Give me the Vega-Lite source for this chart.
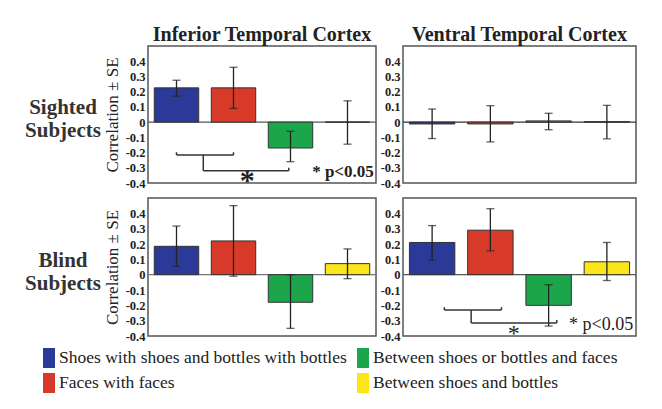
{
  "$schema": "https://vega.github.io/schema/vega-lite/v6.json",
  "padding": {"left": 5, "top": 24, "right": 5, "bottom": 5},
  "background": "white",
  "datasets": {
    "bars": [
      {"region": "IT", "group": "Sighted", "condition": "Shoes with shoes and bottles with bottles", "value": 0.225, "lo": 0.17, "hi": 0.275},
      {"region": "IT", "group": "Sighted", "condition": "Faces with faces", "value": 0.225, "lo": 0.09, "hi": 0.36},
      {"region": "IT", "group": "Sighted", "condition": "Between shoes or bottles and faces", "value": -0.17, "lo": -0.26, "hi": -0.06},
      {"region": "IT", "group": "Sighted", "condition": "Between shoes and bottles", "value": 0.0, "lo": -0.145, "hi": 0.14},
      {"region": "VT", "group": "Sighted", "condition": "Shoes with shoes and bottles with bottles", "value": -0.012, "lo": -0.108, "hi": 0.086},
      {"region": "VT", "group": "Sighted", "condition": "Faces with faces", "value": -0.012, "lo": -0.13, "hi": 0.108},
      {"region": "VT", "group": "Sighted", "condition": "Between shoes or bottles and faces", "value": 0.008, "lo": -0.05, "hi": 0.058},
      {"region": "VT", "group": "Sighted", "condition": "Between shoes and bottles", "value": 0.003, "lo": -0.11, "hi": 0.11},
      {"region": "IT", "group": "Blind", "condition": "Shoes with shoes and bottles with bottles", "value": 0.185, "lo": 0.055, "hi": 0.317},
      {"region": "IT", "group": "Blind", "condition": "Faces with faces", "value": 0.22, "lo": -0.01, "hi": 0.45},
      {"region": "IT", "group": "Blind", "condition": "Between shoes or bottles and faces", "value": -0.18, "lo": -0.35, "hi": 0.0},
      {"region": "IT", "group": "Blind", "condition": "Between shoes and bottles", "value": 0.072, "lo": -0.026, "hi": 0.168},
      {"region": "VT", "group": "Blind", "condition": "Shoes with shoes and bottles with bottles", "value": 0.21, "lo": 0.095, "hi": 0.32},
      {"region": "VT", "group": "Blind", "condition": "Faces with faces", "value": 0.29, "lo": 0.155, "hi": 0.43},
      {"region": "VT", "group": "Blind", "condition": "Between shoes or bottles and faces", "value": -0.2, "lo": -0.335, "hi": -0.066},
      {"region": "VT", "group": "Blind", "condition": "Between shoes and bottles", "value": 0.084, "lo": -0.038, "hi": 0.21}
    ],
    "brackets": [
      {"panel": "IT-Sighted", "x": 0.5, "x2": 1.5, "y": -0.216, "y2": -0.216},
      {"panel": "IT-Sighted", "x": 0.5, "x2": 0.5, "y": -0.216, "y2": -0.198},
      {"panel": "IT-Sighted", "x": 1.5, "x2": 1.5, "y": -0.216, "y2": -0.198},
      {"panel": "IT-Sighted", "x": 0.97, "x2": 0.97, "y": -0.216, "y2": -0.32},
      {"panel": "IT-Sighted", "x": 0.97, "x2": 2.47, "y": -0.32, "y2": -0.32},
      {"panel": "IT-Sighted", "x": 2.47, "x2": 2.47, "y": -0.32, "y2": -0.3},
      {"panel": "VT-Blind", "x": 0.71, "x2": 1.69, "y": -0.23, "y2": -0.23},
      {"panel": "VT-Blind", "x": 0.71, "x2": 0.71, "y": -0.23, "y2": -0.212},
      {"panel": "VT-Blind", "x": 1.69, "x2": 1.69, "y": -0.23, "y2": -0.212},
      {"panel": "VT-Blind", "x": 1.17, "x2": 1.17, "y": -0.23, "y2": -0.315},
      {"panel": "VT-Blind", "x": 1.17, "x2": 2.64, "y": -0.315, "y2": -0.315},
      {"panel": "VT-Blind", "x": 2.64, "x2": 2.64, "y": -0.315, "y2": -0.295}
    ],
    "notes": [
      {"panel": "IT-Sighted", "kind": "star", "x": 1.74, "y": -0.39, "label": "*"},
      {"panel": "IT-Sighted", "kind": "p", "x": 2.88, "y": -0.33, "label": "* p<0.05"},
      {"panel": "VT-Blind", "kind": "star", "x": 1.9, "y": -0.385, "label": "*"},
      {"panel": "VT-Blind", "kind": "p", "x": 2.85, "y": -0.33, "label": "* p<0.05"}
    ],
    "rows": [
      {"group": "Sighted", "label": "Sighted\nSubjects"},
      {"group": "Blind", "label": "Blind\nSubjects"}
    ],
    "zero": [{"zero": 0}]
  },
  "vconcat": [
    {
      "hconcat": [
        {
          "width": 116, "height": 137, "view": {"stroke": null},
          "data": {"name": "rows"},
          "transform": [{"filter": "datum.group === 'Sighted'"}],
          "mark": {"type": "text", "font": "Liberation Serif", "fontSize": 21, "fontWeight": "bold", "lineBreak": "\n", "lineHeight": 23, "dy": -7, "color": "#333"},
          "encoding": {
            "text": {"field": "label"},
            "x": {"field": "group", "type": "nominal", "axis": null},
            "y": {"field": "group", "type": "nominal", "axis": null}
          }
        },
        {
          "width": 228, "height": 137,
          "title": {"text": "Inferior Temporal Cortex", "frame": "group", "font": "Liberation Serif", "fontSize": 20, "fontWeight": "bold", "color": "#222", "offset": -19, "baseline": "bottom"},
          "resolve": {"scale": {"x": "independent"}},
          "layer": [
            {
              "data": {"name": "zero"},
              "mark": {"type": "rule", "color": "#555", "strokeWidth": 1.2},
              "encoding": {"y": {"field": "zero", "type": "quantitative", "scale": {"domain": [-0.4, 0.5], "nice": false}, "title": "Correlation ± SE",
                "axis": {"values": [-0.4, -0.3, -0.2, -0.1, 0, 0.1, 0.2, 0.3, 0.4], "tickCount": 12, "labelOverlap": false, "labelExpr": "datum.value === 0 ? '0' : (datum.value < 0 ? '-' + format(-datum.value, '.1f') : format(datum.value, '.1f'))"}}}
            },
            {
              "data": {"name": "bars"},
              "transform": [{"filter": "datum.region === 'IT' && datum.group === 'Sighted'"}],
              "layer": [
                {
                  "mark": {"type": "bar", "stroke": "#333", "strokeWidth": 1},
                  "encoding": {
                    "x": {"field": "condition", "type": "nominal", "scale": {"domain": ["Shoes with shoes and bottles with bottles", "Faces with faces", "Between shoes or bottles and faces", "Between shoes and bottles"], "paddingInner": 0.22, "paddingOuter": 0.11}, "axis": null},
                    "y": {"field": "value", "type": "quantitative", "scale": {"domain": [-0.4, 0.5], "nice": false}, "title": "Correlation ± SE",
                      "axis": {"values": [-0.4, -0.3, -0.2, -0.1, 0, 0.1, 0.2, 0.3, 0.4], "tickCount": 12, "labelOverlap": false, "labelExpr": "datum.value === 0 ? '0' : (datum.value < 0 ? '-' + format(-datum.value, '.1f') : format(datum.value, '.1f'))"}},
                    "color": {"field": "condition", "type": "nominal",
                      "scale": {"domain": ["Shoes with shoes and bottles with bottles", "Faces with faces", "Between shoes or bottles and faces", "Between shoes and bottles"], "range": ["#2b3a98", "#d83a2a", "#1ca64c", "#fbe619"]},
                      "legend": {"orient": "none", "legendX": 34, "legendY": 302, "columns": 2, "title": null, "symbolType": "M-0.6,-1H0.6V1H-0.6Z", "symbolSize": 400, "symbolStrokeWidth": 0, "symbolOpacity": 1, "labelFont": "Liberation Serif", "labelFontSize": 17.5, "labelColor": "#222", "labelOffset": 0, "columnPadding": 6, "rowPadding": 5, "labelLimit": 400, "padding": 0}}
                  }
                },
                {
                  "mark": {"type": "rule", "color": "#222", "strokeWidth": 1.3},
                  "encoding": {
                    "x": {"field": "condition", "type": "nominal", "axis": null},
                    "y": {"field": "lo", "type": "quantitative", "title": "Correlation ± SE"},
                    "y2": {"field": "hi"}
                  }
                },
                {
                  "mark": {"type": "tick", "color": "#222", "thickness": 1.3, "size": 8, "orient": "horizontal"},
                  "encoding": {
                    "x": {"field": "condition", "type": "nominal", "axis": null},
                    "y": {"field": "lo", "type": "quantitative", "title": "Correlation ± SE"}
                  }
                },
                {
                  "mark": {"type": "tick", "color": "#222", "thickness": 1.3, "size": 8, "orient": "horizontal"},
                  "encoding": {
                    "x": {"field": "condition", "type": "nominal", "axis": null},
                    "y": {"field": "hi", "type": "quantitative", "title": "Correlation ± SE"}
                  }
                }
              ]
            },
            {
              "data": {"name": "brackets"},
              "transform": [{"filter": "datum.panel === 'IT-Sighted'"}],
              "mark": {"type": "rule", "color": "#333", "strokeWidth": 1.5},
              "encoding": {
                "x": {"field": "x", "type": "quantitative", "scale": {"domain": [0, 4], "nice": false, "zero": false}, "axis": null},
                "x2": {"field": "x2"},
                "y": {"field": "y", "type": "quantitative", "title": "Correlation ± SE"},
                "y2": {"field": "y2"}
              }
            },
            {
              "data": {"name": "notes"},
              "transform": [{"filter": "datum.panel === 'IT-Sighted' && datum.kind === 'star'"}],
              "mark": {"type": "text", "font": "Liberation Serif", "fontSize": 30, "fontWeight": "bold", "align": "center", "baseline": "middle", "color": "#222"},
              "encoding": {
                "text": {"field": "label"},
                "x": {"field": "x", "type": "quantitative", "scale": {"domain": [0, 4], "nice": false, "zero": false}, "axis": null},
                "y": {"field": "y", "type": "quantitative", "title": "Correlation ± SE"}
              }
            },
            {
              "data": {"name": "notes"},
              "transform": [{"filter": "datum.panel === 'IT-Sighted' && datum.kind === 'p'"}],
              "mark": {"type": "text", "font": "Liberation Serif", "fontSize": 17, "fontWeight": "bold", "align": "left", "baseline": "middle", "color": "#222"},
              "encoding": {
                "text": {"field": "label"},
                "x": {"field": "x", "type": "quantitative", "scale": {"domain": [0, 4], "nice": false, "zero": false}, "axis": null},
                "y": {"field": "y", "type": "quantitative", "title": "Correlation ± SE"}
              }
            }
          ]
        },
        {
          "width": 233, "height": 137,
          "title": {"text": "Ventral Temporal Cortex", "frame": "group", "font": "Liberation Serif", "fontSize": 20, "fontWeight": "bold", "color": "#222", "offset": -19, "baseline": "bottom"},
          "layer": [
            {
              "data": {"name": "zero"},
              "mark": {"type": "rule", "color": "#333", "strokeWidth": 1.2},
              "encoding": {"y": {"field": "zero", "type": "quantitative", "scale": {"domain": [-0.4, 0.5], "nice": false}, "title": null,
                "axis": {"values": [-0.4, -0.3, -0.2, -0.1, 0, 0.1, 0.2, 0.3, 0.4], "tickCount": 12, "labelOverlap": false, "labelExpr": "datum.value === 0 ? '0' : (datum.value < 0 ? '-' + format(-datum.value, '.1f') : format(datum.value, '.1f'))"}}}
            },
            {
              "data": {"name": "bars"},
              "transform": [{"filter": "datum.region === 'VT' && datum.group === 'Sighted'"}],
              "layer": [
                {
                  "mark": {"type": "bar", "stroke": "#333", "strokeWidth": 1},
                  "encoding": {
                    "x": {"field": "condition", "type": "nominal", "scale": {"domain": ["Shoes with shoes and bottles with bottles", "Faces with faces", "Between shoes or bottles and faces", "Between shoes and bottles"], "paddingInner": 0.22, "paddingOuter": 0.11}, "axis": null},
                    "y": {"field": "value", "type": "quantitative", "scale": {"domain": [-0.4, 0.5], "nice": false}, "title": null,
                      "axis": {"values": [-0.4, -0.3, -0.2, -0.1, 0, 0.1, 0.2, 0.3, 0.4], "tickCount": 12, "labelOverlap": false, "labelExpr": "datum.value === 0 ? '0' : (datum.value < 0 ? '-' + format(-datum.value, '.1f') : format(datum.value, '.1f'))"}},
                    "color": {"field": "condition", "type": "nominal",
                      "scale": {"domain": ["Shoes with shoes and bottles with bottles", "Faces with faces", "Between shoes or bottles and faces", "Between shoes and bottles"], "range": ["#2b3a98", "#d83a2a", "#1ca64c", "#fbe619"]},
                      "legend": {"orient": "none", "legendX": 34, "legendY": 302, "columns": 2, "title": null, "symbolType": "M-0.6,-1H0.6V1H-0.6Z", "symbolSize": 400, "symbolStrokeWidth": 0, "symbolOpacity": 1, "labelFont": "Liberation Serif", "labelFontSize": 17.5, "labelColor": "#222", "labelOffset": 0, "columnPadding": 6, "rowPadding": 5, "labelLimit": 400, "padding": 0}}
                  }
                },
                {
                  "mark": {"type": "rule", "color": "#222", "strokeWidth": 1.3},
                  "encoding": {
                    "x": {"field": "condition", "type": "nominal", "axis": null},
                    "y": {"field": "lo", "type": "quantitative", "title": null},
                    "y2": {"field": "hi"}
                  }
                },
                {
                  "mark": {"type": "tick", "color": "#222", "thickness": 1.3, "size": 8, "orient": "horizontal"},
                  "encoding": {
                    "x": {"field": "condition", "type": "nominal", "axis": null},
                    "y": {"field": "lo", "type": "quantitative", "title": null}
                  }
                },
                {
                  "mark": {"type": "tick", "color": "#222", "thickness": 1.3, "size": 8, "orient": "horizontal"},
                  "encoding": {
                    "x": {"field": "condition", "type": "nominal", "axis": null},
                    "y": {"field": "hi", "type": "quantitative", "title": null}
                  }
                }
              ]
            }
          ]
        }
      ],
      "spacing": 27,
      "bounds": "flush"
    },
    {
      "hconcat": [
        {
          "width": 116, "height": 138, "view": {"stroke": null},
          "data": {"name": "rows"},
          "transform": [{"filter": "datum.group === 'Blind'"}],
          "mark": {"type": "text", "font": "Liberation Serif", "fontSize": 21, "fontWeight": "bold", "lineBreak": "\n", "lineHeight": 23, "dy": -6, "color": "#333"},
          "encoding": {
            "text": {"field": "label"},
            "x": {"field": "group", "type": "nominal", "axis": null},
            "y": {"field": "group", "type": "nominal", "axis": null}
          }
        },
        {
          "width": 228, "height": 138,
          "layer": [
            {
              "data": {"name": "zero"},
              "mark": {"type": "rule", "color": "#777", "strokeWidth": 1.2},
              "encoding": {"y": {"field": "zero", "type": "quantitative", "scale": {"domain": [-0.4, 0.5], "nice": false}, "title": "Correlation ± SE",
                "axis": {"values": [-0.4, -0.3, -0.2, -0.1, 0, 0.1, 0.2, 0.3, 0.4], "tickCount": 12, "labelOverlap": false, "labelExpr": "datum.value === 0 ? '0' : (datum.value < 0 ? '-' + format(-datum.value, '.1f') : format(datum.value, '.1f'))"}}}
            },
            {
              "data": {"name": "bars"},
              "transform": [{"filter": "datum.region === 'IT' && datum.group === 'Blind'"}],
              "layer": [
                {
                  "mark": {"type": "bar", "stroke": "#333", "strokeWidth": 1},
                  "encoding": {
                    "x": {"field": "condition", "type": "nominal", "scale": {"domain": ["Shoes with shoes and bottles with bottles", "Faces with faces", "Between shoes or bottles and faces", "Between shoes and bottles"], "paddingInner": 0.22, "paddingOuter": 0.11}, "axis": null},
                    "y": {"field": "value", "type": "quantitative", "scale": {"domain": [-0.4, 0.5], "nice": false}, "title": "Correlation ± SE",
                      "axis": {"values": [-0.4, -0.3, -0.2, -0.1, 0, 0.1, 0.2, 0.3, 0.4], "tickCount": 12, "labelOverlap": false, "labelExpr": "datum.value === 0 ? '0' : (datum.value < 0 ? '-' + format(-datum.value, '.1f') : format(datum.value, '.1f'))"}},
                    "color": {"field": "condition", "type": "nominal",
                      "scale": {"domain": ["Shoes with shoes and bottles with bottles", "Faces with faces", "Between shoes or bottles and faces", "Between shoes and bottles"], "range": ["#2b3a98", "#d83a2a", "#1ca64c", "#fbe619"]},
                      "legend": {"orient": "none", "legendX": 34, "legendY": 302, "columns": 2, "title": null, "symbolType": "M-0.6,-1H0.6V1H-0.6Z", "symbolSize": 400, "symbolStrokeWidth": 0, "symbolOpacity": 1, "labelFont": "Liberation Serif", "labelFontSize": 17.5, "labelColor": "#222", "labelOffset": 0, "columnPadding": 6, "rowPadding": 5, "labelLimit": 400, "padding": 0}}
                  }
                },
                {
                  "mark": {"type": "rule", "color": "#222", "strokeWidth": 1.3},
                  "encoding": {
                    "x": {"field": "condition", "type": "nominal", "axis": null},
                    "y": {"field": "lo", "type": "quantitative", "title": "Correlation ± SE"},
                    "y2": {"field": "hi"}
                  }
                },
                {
                  "mark": {"type": "tick", "color": "#222", "thickness": 1.3, "size": 8, "orient": "horizontal"},
                  "encoding": {
                    "x": {"field": "condition", "type": "nominal", "axis": null},
                    "y": {"field": "lo", "type": "quantitative", "title": "Correlation ± SE"}
                  }
                },
                {
                  "mark": {"type": "tick", "color": "#222", "thickness": 1.3, "size": 8, "orient": "horizontal"},
                  "encoding": {
                    "x": {"field": "condition", "type": "nominal", "axis": null},
                    "y": {"field": "hi", "type": "quantitative", "title": "Correlation ± SE"}
                  }
                }
              ]
            }
          ]
        },
        {
          "width": 233, "height": 138,
          "resolve": {"scale": {"x": "independent"}},
          "layer": [
            {
              "data": {"name": "zero"},
              "mark": {"type": "rule", "color": "#555", "strokeWidth": 1.2},
              "encoding": {"y": {"field": "zero", "type": "quantitative", "scale": {"domain": [-0.4, 0.5], "nice": false}, "title": null,
                "axis": {"values": [-0.4, -0.3, -0.2, -0.1, 0, 0.1, 0.2, 0.3, 0.4], "tickCount": 12, "labelOverlap": false, "labelExpr": "datum.value === 0 ? '0' : (datum.value < 0 ? '-' + format(-datum.value, '.1f') : format(datum.value, '.1f'))"}}}
            },
            {
              "data": {"name": "bars"},
              "transform": [{"filter": "datum.region === 'VT' && datum.group === 'Blind'"}],
              "layer": [
                {
                  "mark": {"type": "bar", "stroke": "#333", "strokeWidth": 1},
                  "encoding": {
                    "x": {"field": "condition", "type": "nominal", "scale": {"domain": ["Shoes with shoes and bottles with bottles", "Faces with faces", "Between shoes or bottles and faces", "Between shoes and bottles"], "paddingInner": 0.22, "paddingOuter": 0.11}, "axis": null},
                    "y": {"field": "value", "type": "quantitative", "scale": {"domain": [-0.4, 0.5], "nice": false}, "title": null,
                      "axis": {"values": [-0.4, -0.3, -0.2, -0.1, 0, 0.1, 0.2, 0.3, 0.4], "tickCount": 12, "labelOverlap": false, "labelExpr": "datum.value === 0 ? '0' : (datum.value < 0 ? '-' + format(-datum.value, '.1f') : format(datum.value, '.1f'))"}},
                    "color": {"field": "condition", "type": "nominal",
                      "scale": {"domain": ["Shoes with shoes and bottles with bottles", "Faces with faces", "Between shoes or bottles and faces", "Between shoes and bottles"], "range": ["#2b3a98", "#d83a2a", "#1ca64c", "#fbe619"]},
                      "legend": {"orient": "none", "legendX": 34, "legendY": 302, "columns": 2, "title": null, "symbolType": "M-0.6,-1H0.6V1H-0.6Z", "symbolSize": 400, "symbolStrokeWidth": 0, "symbolOpacity": 1, "labelFont": "Liberation Serif", "labelFontSize": 17.5, "labelColor": "#222", "labelOffset": 0, "columnPadding": 6, "rowPadding": 5, "labelLimit": 400, "padding": 0}}
                  }
                },
                {
                  "mark": {"type": "rule", "color": "#222", "strokeWidth": 1.3},
                  "encoding": {
                    "x": {"field": "condition", "type": "nominal", "axis": null},
                    "y": {"field": "lo", "type": "quantitative", "title": null},
                    "y2": {"field": "hi"}
                  }
                },
                {
                  "mark": {"type": "tick", "color": "#222", "thickness": 1.3, "size": 8, "orient": "horizontal"},
                  "encoding": {
                    "x": {"field": "condition", "type": "nominal", "axis": null},
                    "y": {"field": "lo", "type": "quantitative", "title": null}
                  }
                },
                {
                  "mark": {"type": "tick", "color": "#222", "thickness": 1.3, "size": 8, "orient": "horizontal"},
                  "encoding": {
                    "x": {"field": "condition", "type": "nominal", "axis": null},
                    "y": {"field": "hi", "type": "quantitative", "title": null}
                  }
                }
              ]
            },
            {
              "data": {"name": "brackets"},
              "transform": [{"filter": "datum.panel === 'VT-Blind'"}],
              "mark": {"type": "rule", "color": "#333", "strokeWidth": 1.5},
              "encoding": {
                "x": {"field": "x", "type": "quantitative", "scale": {"domain": [0, 4], "nice": false, "zero": false}, "axis": null},
                "x2": {"field": "x2"},
                "y": {"field": "y", "type": "quantitative", "title": null},
                "y2": {"field": "y2"}
              }
            },
            {
              "data": {"name": "notes"},
              "transform": [{"filter": "datum.panel === 'VT-Blind' && datum.kind === 'star'"}],
              "mark": {"type": "text", "font": "Liberation Serif", "fontSize": 24, "align": "center", "baseline": "middle", "color": "#222"},
              "encoding": {
                "text": {"field": "label"},
                "x": {"field": "x", "type": "quantitative", "scale": {"domain": [0, 4], "nice": false, "zero": false}, "axis": null},
                "y": {"field": "y", "type": "quantitative", "title": null}
              }
            },
            {
              "data": {"name": "notes"},
              "transform": [{"filter": "datum.panel === 'VT-Blind' && datum.kind === 'p'"}],
              "mark": {"type": "text", "font": "Liberation Serif", "fontSize": 18, "align": "left", "baseline": "middle", "color": "#222"},
              "encoding": {
                "text": {"field": "label"},
                "x": {"field": "x", "type": "quantitative", "scale": {"domain": [0, 4], "nice": false, "zero": false}, "axis": null},
                "y": {"field": "y", "type": "quantitative", "title": null}
              }
            }
          ]
        }
      ],
      "spacing": 27,
      "bounds": "flush"
    }
  ],
  "spacing": -9,
  "config": {
    "view": {"stroke": "#555", "strokeWidth": 1.5},
    "axis": {
      "domain": false, "ticks": false, "grid": false, "labelFlush": false, "labelOverlap": false,
      "labelFont": "Liberation Serif", "labelFontSize": 12.5, "labelFontWeight": "bold", "labelColor": "#222", "labelPadding": 3,
      "titleFont": "Liberation Serif", "titleFontSize": 17, "titleFontWeight": "normal", "titleColor": "#222", "titlePadding": 4
    }
  }
}
